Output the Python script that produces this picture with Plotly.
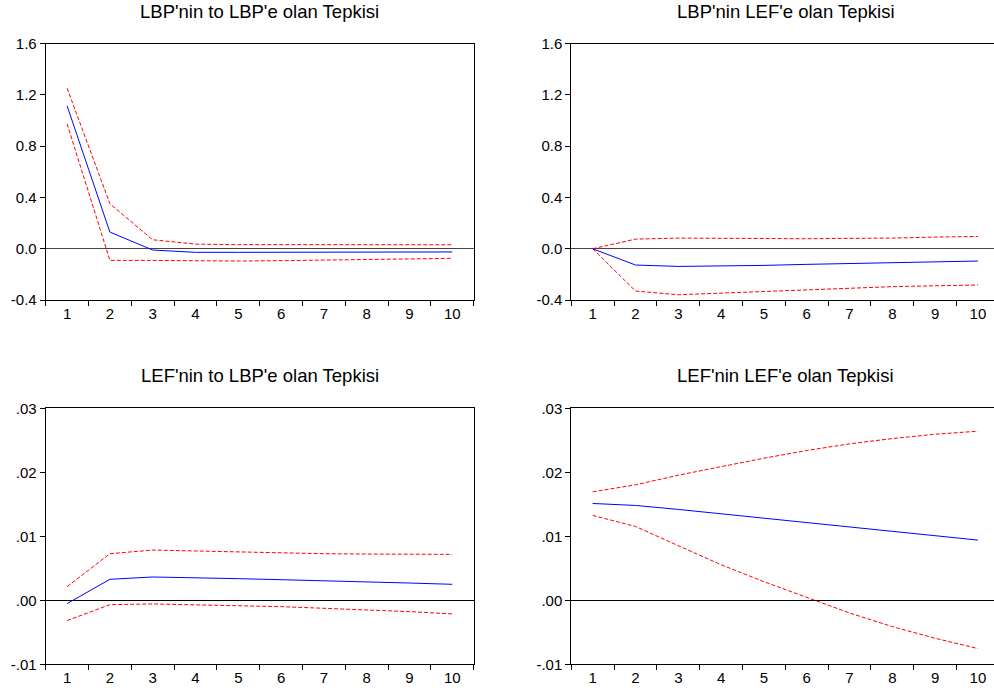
import plotly.graph_objects as go

periods = [1, 2, 3, 4, 5, 6, 7, 8, 9, 10]

titles = ["LBP'nin to LBP'e olan Tepkisi", "LBP'nin LEF'e olan Tepkisi",
          "LEF'nin to LBP'e olan Tepkisi", "LEF'nin LEF'e olan Tepkisi"]

# LBP -> LBP
lbp_lbp = [1.115, 0.13, -0.01, -0.028, -0.028, -0.027, -0.027, -0.026, -0.026, -0.025]
lbp_lbp_up = [1.253, 0.351, 0.070, 0.036, 0.032, 0.032, 0.031, 0.031, 0.031, 0.031]
lbp_lbp_lo = [0.975, -0.091, -0.091, -0.096, -0.096, -0.093, -0.088, -0.083, -0.079, -0.075]

# LBP -> LEF
lbp_lef = [0.0, -0.127, -0.138, -0.135, -0.130, -0.122, -0.114, -0.109, -0.101, -0.096]
lbp_lef_up = [0.0, 0.075, 0.083, 0.081, 0.078, 0.078, 0.081, 0.083, 0.091, 0.096]
lbp_lef_lo = [0.0, -0.330, -0.359, -0.346, -0.333, -0.317, -0.307, -0.296, -0.289, -0.283]

# LEF -> LBP
lef_lbp = [-0.00052, 0.00328, 0.00364, 0.00354, 0.00338, 0.00322, 0.00307, 0.00291, 0.00270, 0.00250]
lef_lbp_up = [0.00213, 0.00728, 0.00785, 0.00770, 0.00754, 0.00738, 0.00728, 0.00723, 0.00718, 0.00718]
lef_lbp_lo = [-0.00317, -0.00068, -0.00057, -0.00068, -0.00083, -0.00099, -0.00125, -0.00146, -0.00177, -0.00213]

# LEF -> LEF
lef_lef = [0.01513, 0.01482, 0.01420, 0.01352, 0.01284, 0.01217, 0.01149, 0.01082, 0.01014, 0.00941]
lef_lef_up = [0.01695, 0.01804, 0.01955, 0.02090, 0.02220, 0.02340, 0.02444, 0.02527, 0.02595, 0.02642]
lef_lef_lo = [0.01326, 0.01154, 0.00853, 0.00556, 0.00291, 0.00052, -0.00198, -0.00411, -0.00593, -0.00754]

top_ticks = [-0.4, 0.0, 0.4, 0.8, 1.2, 1.6]
top_ticktext = ["-0.4", "0.0", "0.4", "0.8", "1.2", "1.6"]
bot_ticks = [-0.01, 0.0, 0.01, 0.02, 0.03]
bot_ticktext = ["-.01", ".00", ".01", ".02", ".03"]

panels = [
    (lbp_lbp, lbp_lbp_up, lbp_lbp_lo),
    (lbp_lef, lbp_lef_up, lbp_lef_lo),
    (lef_lbp, lef_lbp_up, lef_lbp_lo),
    (lef_lef, lef_lef_up, lef_lef_lo),
]

W, H = 994, 694
xcat = [str(p) for p in periods]

# pixel geometry
left_x = (45.7, 473.7)
right_x = (571.3, 994.0)
top_y = (43.7, 300.0)
bot_y = (408.3, 664.3)
cat_px = 42.8

fig = go.Figure()
font_family = "Liberation Sans, Arial, sans-serif"

layout_axes = {}
annotations = []
for i, (mid, up, lo) in enumerate(panels):
    n = i + 1
    xa = "x" if n == 1 else f"x{n}"
    ya = "y" if n == 1 else f"y{n}"
    xpx = left_x if i % 2 == 0 else right_x
    ypx = top_y if i < 2 else bot_y
    fig.add_trace(go.Scatter(x=xcat, y=up, mode="lines", xaxis=xa, yaxis=ya,
                             line=dict(color="#FF0000", width=1, dash="4px,2px"), showlegend=False))
    fig.add_trace(go.Scatter(x=xcat, y=lo, mode="lines", xaxis=xa, yaxis=ya,
                             line=dict(color="#FF0000", width=1, dash="4px,2px"), showlegend=False))
    fig.add_trace(go.Scatter(x=xcat, y=mid, mode="lines", xaxis=xa, yaxis=ya,
                             line=dict(color="#0000FF", width=1), showlegend=False))
    xr_end = -0.5 + (xpx[1] - xpx[0]) / cat_px
    xkey = "xaxis" if n == 1 else f"xaxis{n}"
    ykey = "yaxis" if n == 1 else f"yaxis{n}"
    layout_axes[xkey] = dict(
        domain=[xpx[0] / W, xpx[1] / W], anchor=ya, type="category",
        range=[-0.5, xr_end], tickson="boundaries", ticks="outside", ticklen=5,
        tickcolor="black", showline=True, linecolor="black", linewidth=1,
        mirror=True, showgrid=False, zeroline=False, automargin=False,
        tickfont=dict(family=font_family, size=15, color="black"),
    )
    if i < 2:
        tv, tt, rng = top_ticks, top_ticktext, [-0.4, 1.6]
        zc = "#444444"
    else:
        tv, tt, rng = bot_ticks, bot_ticktext, [-0.01, 0.03]
        zc = "black"
    layout_axes[ykey] = dict(
        domain=[1 - ypx[1] / H, 1 - ypx[0] / H], anchor=xa, range=rng,
        tickvals=tv, ticktext=tt, ticks="outside", ticklen=5, tickcolor="black",
        showline=True, linecolor="black", linewidth=1, mirror=(i % 2 == 0),
        showgrid=False, zeroline=True, zerolinecolor=zc, zerolinewidth=1,
        automargin=False,
        tickfont=dict(family=font_family, size=15, color="black"),
    )
    annotations.append(dict(
        text=titles[i], xref="paper", yref="paper",
        x=(xpx[0] + xpx[1]) / 2 / W if i % 2 == 0 else (571.3 + 999.7) / 2 / W,
        y=1 - (12 if i < 2 else 375) / H, xanchor="center", yanchor="middle",
        showarrow=False, font=dict(family=font_family, size=18.5, color="black"),
    ))

fig.update_layout(
    width=W, height=H, margin=dict(l=0, r=0, t=0, b=0, autoexpand=False),
    paper_bgcolor="white", plot_bgcolor="white", hovermode=False,
    annotations=annotations, **layout_axes,
)

fig.write_html(
    "out.html",
    config={"displayModeBar": False, "staticPlot": True},
    post_script="document.body.style.margin='0';document.body.style.overflow='hidden';",
)
